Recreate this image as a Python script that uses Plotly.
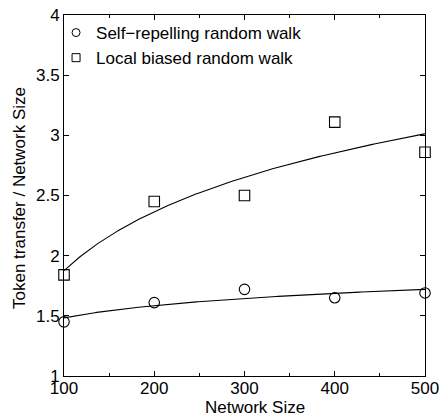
import numpy as np
import plotly.graph_objects as go

network_size = [100, 200, 300, 400, 500]
self_repelling = [1.45, 1.61, 1.72, 1.65, 1.69]
local_biased = [1.84, 2.45, 2.50, 3.11, 2.86]
series_names = ["Self\u2212repelling random walk", "Local biased random walk"]
x_ticks = [100, 200, 300, 400, 500]
y_ticks = [1, 1.5, 2, 2.5, 3, 3.5, 4]
y_tick_text = ["1", "1.5", "2", "2.5", "3", "3.5", "4"]

FONT = "Liberation Sans, Arial, sans-serif"
FS = 17


def log_fit(x, y):
    x = np.asarray(x, float)
    b, a = np.polyfit(np.log(x), np.asarray(y, float), 1)
    xs = np.linspace(x.min(), x.max(), 200)
    return xs, a + b * np.log(xs)


fig = go.Figure()
for vals, sym in [(self_repelling, "circle-open"), (local_biased, "square-open")]:
    xs, ys = log_fit(network_size, vals)
    fig.add_trace(go.Scatter(x=xs, y=ys, mode="lines", line=dict(color="black", width=1.1),
                             showlegend=False, hoverinfo="skip", cliponaxis=False))
    fig.add_trace(go.Scatter(x=network_size, y=vals, mode="markers", cliponaxis=False,
                             marker=dict(symbol=sym, size=10.5, color="black", line=dict(width=1.1, color="black")),
                             showlegend=False))

for name, sym in zip(series_names, ["circle-open", "square-open"]):
    fig.add_trace(go.Scatter(x=[None], y=[None], mode="markers", name=name,
                             marker=dict(symbol=sym, size=8, color="black", line=dict(width=1, color="black"))))

axis_common = dict(showline=True, linecolor="black", linewidth=1, mirror="ticks",
                   ticks="inside", ticklen=5, tickwidth=1, tickcolor="black",
                   showgrid=False, zeroline=False, automargin=False,
                   tickfont=dict(family=FONT, size=FS, color="black"))

fig.update_xaxes(range=[100, 500], tickvals=x_ticks, ticktext=[str(v) for v in x_ticks],
                 minor=dict(dtick=50, ticks="inside", ticklen=3, tickcolor="black", showgrid=False),
                 ticklabelstandoff=-3, **axis_common)
fig.update_yaxes(range=[1, 4], tickvals=y_ticks, ticktext=y_tick_text,
                 ticklabelstandoff=0, **axis_common)

W, H = 441, 419
L, R, T, B = 64, 16, 15, 43
PW, PH = W - L - R, H - T - B
fig.update_layout(
    template="none",
    width=W, height=H, autosize=False,
    margin=dict(l=L, r=R, t=T, b=B, pad=0),
    paper_bgcolor="white", plot_bgcolor="white",
    font=dict(family=FONT, size=FS, color="black"),
    legend=dict(x=-0.022, y=1.0, xanchor="left", yanchor="top", bgcolor="rgba(0,0,0,0)",
                font=dict(family=FONT, size=FS, color="black"), tracegroupgap=0),
    annotations=[
        dict(text="Network Size", xref="paper", yref="paper", x=(255 - L) / PW,
             y=-(H - 0.5 - (H - B)) / PH, xanchor="center", yanchor="bottom",
             showarrow=False, font=dict(family=FONT, size=FS, color="black")),
        dict(text="Token transfer / Network Size", xref="paper", yref="paper",
             x=-(L - 19) / PW, y=((H - B) - 198) / PH, xanchor="center", yanchor="middle",
             textangle=-90, showarrow=False, font=dict(family=FONT, size=FS, color="black")),
    ],
)

fig.write_html("out.html")
